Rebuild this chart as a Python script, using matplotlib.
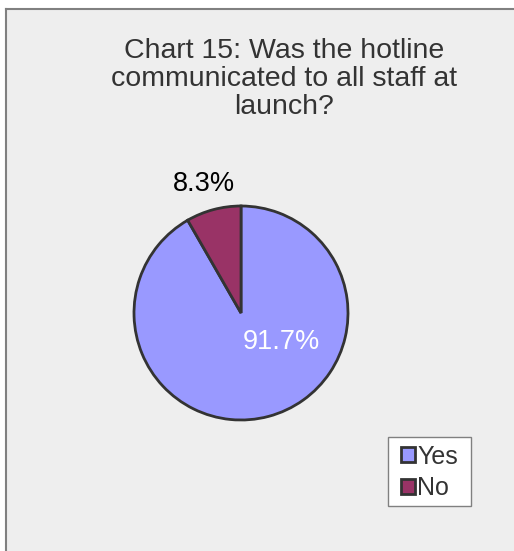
import matplotlib
matplotlib.use("Agg")
import matplotlib.pyplot as plt
from matplotlib.patches import Rectangle, Patch
from matplotlib.lines import Line2D

categories = ["Yes", "No"]
shares = [91.7, 8.3]
colors = ["#9999FF", "#993366"]
title = "Chart 15: Was the hotline\ncommunicated to all staff at\nlaunch?"

plt.rcParams["font.family"] = ["Liberation Sans", "DejaVu Sans"]

W, H = 514, 551
fig = plt.figure(figsize=(W / 100, H / 100), dpi=100)
fig.patch.set_facecolor("white")

# chart area background and border
fig.patches.append(Rectangle((6 / W, 0), 1 - 6 / W, 1 - 9 / H,
                             transform=fig.transFigure, facecolor="#EEEEEE",
                             edgecolor="none", zorder=-10))
fig.lines.append(Line2D([6 / W, 1], [1 - 9 / H, 1 - 9 / H], transform=fig.transFigure,
                        color="#808080", lw=1.5, zorder=-5))
fig.lines.append(Line2D([6 / W, 6 / W], [0, 1 - 9 / H], transform=fig.transFigure,
                        color="#808080", lw=1.5, zorder=-5))

fig.text(284 / W, 1 - 79 / H, title, ha="center", va="center", fontsize=20.5,
         color="#333333", linespacing=1.08)

# pie
cx, cy, r = 241, 313, 107
ax = fig.add_axes([(cx - r) / W, (H - cy - r) / H, 2 * r / W, 2 * r / H])
ax.set_zorder(1)
ax.patch.set_visible(False)
ax.pie(shares, colors=colors, startangle=90, counterclock=False, radius=1,
       wedgeprops=dict(edgecolor="#333333", linewidth=2))
ax.set_xlim(-1, 1)
ax.set_ylim(-1, 1)
ax.axis("off")

ax.text(0.374, -0.271, f"{shares[0]}%", ha="center", va="center", fontsize=19.5,
        color="white")
ax.text(-0.346, 1.206, f"{shares[1]}%", ha="center", va="center", fontsize=19.5,
        color="black")

# legend box
bx0, by0, bx1, by1 = 388, 437, 471, 506
fig.patches.append(Rectangle((bx0 / W, 1 - by1 / H), (bx1 - bx0) / W, (by1 - by0) / H,
                             transform=fig.transFigure, facecolor="white",
                             edgecolor="#808080", linewidth=1, zorder=1))
handles = [Patch(facecolor=c, edgecolor="#333333", linewidth=2) for c in colors]
leg = fig.legend(handles, categories, loc="center",
                 bbox_to_anchor=((bx0 + bx1) / 2 / W, 1 - (by0 + by1 + 2) / 2 / H),
                 frameon=False, fontsize=18, handlelength=0.55, handleheight=0.55,
                 handletextpad=0.1, labelspacing=0.3, borderpad=0,
                 borderaxespad=0)
leg.set_zorder(2)
for t in leg.get_texts():
    t.set_color("#333333")

fig.savefig("out.png", dpi=100)
